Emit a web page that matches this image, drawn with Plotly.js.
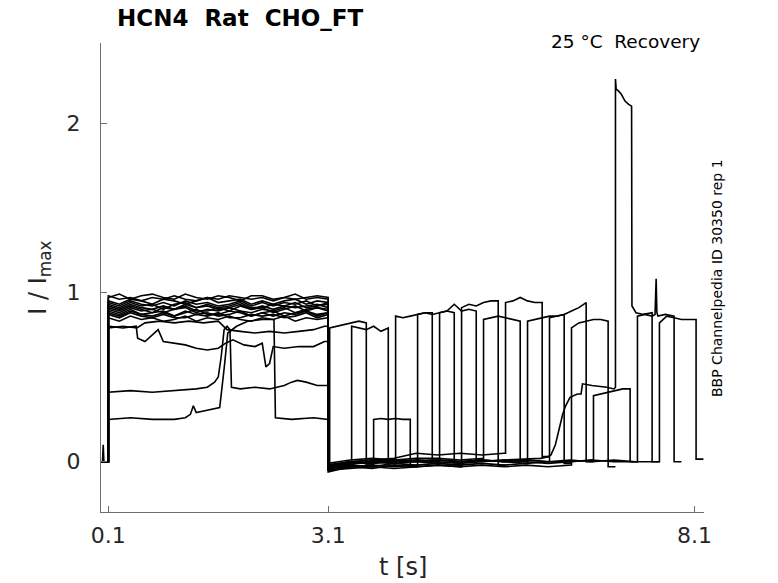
<!DOCTYPE html>
<html>
<head>
<meta charset="utf-8">
<script src="https://cdn.plot.ly/plotly-3.0.1.min.js"></script>
<style>html,body{margin:0;padding:0;background:#fff;}#chart{width:778px;height:583px;}</style>
</head>
<body>
<div id="chart"></div>
<script>
// ---------------- data ----------------
const xTickVals = [0.1, 3.1, 8.1];
const xTickText = ['0.1', '3.1', '8.1'];
const yTickVals = [0, 1, 2];
const yTickText = ['0', '1', '2'];

// holding segment before the first pulse
const preT = [0, 0.02, 0.03, 0.04, 0.1];
const preFlat = [0, 0, 0, 0, 0];
const preSpike = [0, 0, 0.1, 0, 0];

// first pulse (0.1 - 3.1 s), sampled on a common time grid for most sweeps
const p1Grid = [0.1,0.25,0.4,0.55,0.7,0.85,1.0,1.15,1.3,1.45,1.6,1.75,1.9,2.05,2.2,2.35,2.5,2.65,2.8,2.95,3.1];
const bandSweeps = [0,1,3,4,5,6,8,9,10,13,14,15];
const p1BandLevels = [
  [0.97,0.99,0.96,0.98,0.99,0.97,0.96,0.99,0.97,0.96,0.98,0.97,0.95,0.98,0.98,0.96,0.97,0.99,0.96,0.97,0.96],
  [0.95,0.93,0.96,0.95,0.93,0.96,0.95,0.93,0.95,0.97,0.94,0.95,0.96,0.93,0.95,0.93,0.95,0.96,0.93,0.95,0.94],
  [0.93,0.91,0.94,0.92,0.93,0.90,0.93,0.94,0.91,0.93,0.91,0.92,0.94,0.91,0.91,0.93,0.92,0.94,0.91,0.92,0.93],
  [0.91,0.89,0.92,0.90,0.88,0.91,0.90,0.92,0.89,0.89,0.91,0.89,0.92,0.90,0.91,0.88,0.90,0.92,0.89,0.91,0.90],
  [0.89,0.87,0.90,0.87,0.88,0.89,0.86,0.88,0.90,0.87,0.87,0.89,0.88,0.86,0.88,0.89,0.86,0.88,0.89,0.87,0.88],
  [0.98,0.96,0.97,0.95,0.97,0.96,0.98,0.96,0.95,0.97,0.96,0.98,0.97,0.96,0.97,0.95,0.97,0.96,0.97,0.98,0.97],
  [0.94,0.92,0.95,0.93,0.92,0.94,0.92,0.95,0.93,0.94,0.92,0.93,0.95,0.92,0.94,0.92,0.94,0.93,0.95,0.92,0.94],
  [0.87,0.85,0.88,0.86,0.85,0.87,0.85,0.85,0.87,0.86,0.88,0.85,0.85,0.87,0.86,0.87,0.85,0.86,0.88,0.85,0.87],
  [0.92,0.90,0.93,0.91,0.90,0.92,0.90,0.93,0.91,0.92,0.90,0.91,0.93,0.90,0.92,0.90,0.92,0.91,0.92,0.93,0.91],
  [0.85,0.83,0.86,0.84,0.85,0.83,0.84,0.86,0.83,0.85,0.84,0.86,0.84,0.83,0.85,0.84,0.86,0.83,0.85,0.84,0.85],
  [0.90,0.88,0.91,0.89,0.90,0.88,0.90,0.91,0.88,0.90,0.89,0.91,0.89,0.88,0.90,0.89,0.91,0.88,0.90,0.91,0.89],
  [0.88,0.86,0.89,0.87,0.86,0.88,0.86,0.89,0.87,0.88,0.86,0.87,0.89,0.86,0.88,0.86,0.88,0.87,0.89,0.86,0.88]
];
// first pulse of the irregular sweeps
const p1S3T = [0.1,0.4,0.7,1.0,1.15,1.22,1.26,1.3,1.4,1.5,1.62,1.68,1.73,1.85,2.0,2.2,2.36,2.38,2.6,2.9,3.1];
const p1S3Y = [0.25,0.26,0.25,0.25,0.26,0.28,0.33,0.29,0.30,0.31,0.32,0.55,0.76,0.80,0.83,0.84,0.84,0.26,0.25,0.26,0.25];
const p1S8T = [0.1,0.3,0.49,0.6,0.8,1.0,1.2,1.4,1.6,1.72,1.9,2.1,2.3,2.5,2.7,2.9,3.05,3.1];
const p1S8Y = [0.79,0.80,0.79,0.82,0.83,0.82,0.83,0.82,0.83,0.78,0.77,0.76,0.77,0.76,0.77,0.78,0.80,0.80];
const p1S12T = [0.1,0.3,0.48,0.5,0.6,0.7,0.78,0.85,1.0,1.15,1.3,1.45,1.6,1.7,1.8,1.95,2.1,2.2,2.25,2.3,2.35,2.5,2.7,2.9,3.05,3.1];
const p1S12Y = [0.80,0.79,0.80,0.73,0.71,0.75,0.78,0.71,0.70,0.69,0.67,0.66,0.67,0.70,0.72,0.69,0.68,0.70,0.56,0.58,0.68,0.67,0.68,0.68,0.71,0.71];
const p1S13T = [0.1,0.4,0.7,1.0,1.17,1.3,1.45,1.55,1.6,1.64,1.68,1.72,1.76,1.78,1.9,2.1,2.3,2.5,2.6,2.68,2.8,2.95,3.1];
const p1S13Y = [0.41,0.42,0.41,0.42,0.43,0.43,0.44,0.47,0.50,0.62,0.78,0.80,0.78,0.44,0.43,0.44,0.43,0.45,0.47,0.48,0.47,0.45,0.45];

// recovery interval baseline (3.1 s until the test pulse)
const baseGrid = [3.1,3.4,3.7,4.0,4.3,4.6,4.9,5.2,5.5,5.8,6.1,6.4,6.7,7.0,7.3,7.6];
const baseLevels = [
  [-0.05],
  [-0.04,-0.02],
  [-0.06,-0.03,-0.02],
  [-0.03,-0.01,0.0,-0.01],
  [-0.05,-0.03,-0.02,-0.03,-0.02],
  [-0.02,0.0,0.01,0.0,0.01,0.0],
  [-0.04,-0.03,-0.04,-0.02,-0.03,-0.02,-0.03],
  [-0.01,0.01,0.02,0.01,0.02,0.02,0.01,0.02],
  [-0.03,0.0,0.01,0.02,0.05,0.04,0.05,0.04,0.05],
  [-0.04,-0.02,-0.03,-0.01,-0.02,-0.01,-0.02,-0.01,-0.02,-0.01],
  [-0.02,0.0,-0.01,0.01,0.0,0.01,0.0,0.01,0.0,0.01,0.0],
  [-0.05,-0.04,-0.03,-0.04,-0.03,-0.02,-0.03,-0.02,-0.03,-0.02,-0.03,-0.02],
  [-0.03,-0.01,0.0,-0.01,0.0,0.01,0.0,0.01,0.0,0.01,0.0,0.0,0.01],
  null,
  [-0.02,0.0,-0.01,0.0,0.01,0.0,-0.01,0.0,0.01,0.0,-0.01,0.0,0.01,0.0,0.0],
  [-0.03,-0.01,0.0,0.01,0.0,-0.01,0.0,0.01,0.0,-0.01,0.0,0.01,0.0,0.01,0.0,0.0]
];
const baseS14T = [3.1,3.5,4.0,4.5,5.0,5.5,6.0,6.1,6.14,6.2,6.26,6.3,6.34,6.4,6.5,6.55,6.57,6.7,6.9,7.0,7.02];
const baseS14Y = [-0.04,-0.01,0.0,0.01,0.0,0.01,0.02,0.03,0.04,0.1,0.22,0.28,0.33,0.38,0.40,0.40,0.46,0.45,0.44,0.43,0.44];

// test pulses
const testStart = [3.12,3.42,3.72,4.02,4.32,4.62,4.92,5.22,5.52,5.82,6.12,6.42,6.72,7.02,7.32,7.62];
const testDuration = 0.5;
const tailDuration = 0.1;
const testRel = [0, 0.1, 0.2, 0.3, 0.4, 0.5];
const testLevels = [
  [0.79,0.80,0.81,0.82,0.83,0.82],
  [0.80,0.79,0.78,0.80,0.77,0.79],
  [0.25,0.255,0.25,0.255,0.25,0.25],
  [0.86,0.85,0.86,0.87,0.88,0.88],
  [0.87,0.88,0.87,0.88,0.89,0.88],
  [0.88,0.89,0.93,0.89,0.90,0.89],
  [0.91,0.93,0.92,0.94,0.95,0.95],
  [0.84,0.85,0.86,0.85,0.84,0.83],
  [0.94,0.95,0.97,0.95,0.94,0.94],
  [0.83,0.84,0.85,0.86,0.86,0.87],
  [0.85,0.86,0.87,0.89,0.91,0.94],
  [0.79,0.82,0.83,0.84,0.84,0.83],
  [0.39,0.40,0.41,0.42,0.43,0.43],
  null,
  null,
  [0.82,0.86,0.85,0.84,0.84,0.84]
];
const testS14T = [7.02,7.03,7.06,7.1,7.15,7.2,7.24,7.245,7.3,7.4,7.52];
const testS14Y = [2.26,2.2,2.19,2.17,2.13,2.11,2.1,0.92,0.88,0.87,0.88];
const testS15T = [7.32,7.42,7.52,7.56,7.575,7.585,7.6,7.7,7.82];
const testS15Y = [0.86,0.87,0.86,0.87,1.08,0.88,0.86,0.87,0.86];
const postLevels = [-0.02,-0.01,-0.03,0.0,-0.02,0.01,-0.02,0.01,0.03,-0.01,0.0,-0.03,0.0,0.0,0.0,0.015];

// ---------------- build the sweeps ----------------
const p1Special = {2: [p1S3T, p1S3Y], 7: [p1S8T, p1S8Y], 11: [p1S12T, p1S12Y], 12: [p1S13T, p1S13Y]};
const traces = [];
for (let k = 0; k < testStart.length; k++) {
  let x = [], y = [];
  x = x.concat(preT);
  y = y.concat(k === 0 ? preSpike : preFlat);
  if (p1Special[k]) {
    x = x.concat(p1Special[k][0]); y = y.concat(p1Special[k][1]);
  } else {
    const bi = bandSweeps.indexOf(k);
    x = x.concat(p1Grid); y = y.concat(p1BandLevels[bi]);
  }
  if (baseLevels[k]) {
    const bl = baseLevels[k];
    x = x.concat(baseGrid.slice(0, bl.length)); y = y.concat(bl);
    x.push(testStart[k]); y.push(bl[bl.length - 1]);
  } else {
    x = x.concat(baseS14T); y = y.concat(baseS14Y);
  }
  let tEnd;
  if (k === 13) {
    x = x.concat(testS14T); y = y.concat(testS14Y); tEnd = testS14T[testS14T.length - 1];
  } else if (k === 14) {
    x = x.concat(testS15T); y = y.concat(testS15Y); tEnd = testS15T[testS15T.length - 1];
  } else {
    testRel.forEach((r, j) => { x.push(testStart[k] + r); y.push(testLevels[k][j]); });
    tEnd = testStart[k] + testDuration;
  }
  x.push(tEnd, tEnd + tailDuration); y.push(postLevels[k], postLevels[k]);
  traces.push({x: x, y: y, type: 'scatter', mode: 'lines',
    line: {color: '#000000', width: 1.6}, hoverinfo: 'skip', showlegend: false});
}

const F = 'DejaVu Sans, Liberation Sans, sans-serif';
const axisCommon = {
  showline: true, linecolor: '#6e6e6e', linewidth: 1, mirror: false,
  ticks: 'inside', ticklen: 6, tickcolor: '#6e6e6e', tickwidth: 1,
  showgrid: false, zeroline: false, tickmode: 'array',
  tickfont: {family: F, size: 22, color: '#262626'}
};
const layout = {
  width: 778, height: 583,
  margin: {l: 101, r: 73.5, t: 43, b: 71, pad: 0},
  paper_bgcolor: '#ffffff', plot_bgcolor: '#ffffff',
  showlegend: false,
  xaxis: Object.assign({}, axisCommon, {range: [0, 8.228], tickvals: xTickVals, ticktext: xTickText, ticklabelstandoff: 4}),
  yaxis: Object.assign({}, axisCommon, {range: [-0.297, 2.473], tickvals: yTickVals, ticktext: yTickText, ticklabelposition: 'outside', ticklabelstandoff: 15}),
  annotations: [
    {text: '<b>HCN4\u00a0\u00a0Rat\u00a0\u00a0CHO_FT</b>', xref: 'paper', yref: 'paper', x: 0.0232, y: 1.0533,
     xanchor: 'left', yanchor: 'middle', showarrow: false, font: {family: F, size: 23, color: '#000000'}},
    {text: '25 °C\u00a0\u00a0Recovery', xref: 'paper', yref: 'paper', x: 0.9975, y: 1.004,
     xanchor: 'right', yanchor: 'middle', showarrow: false, font: {family: F, size: 18.5, color: '#000000'}},
    {text: 'BBP Channelpedia ID 30350 rep 1', xref: 'paper', yref: 'paper', x: 1.0207, y: 0.5,
     xanchor: 'center', yanchor: 'middle', textangle: -90, showarrow: false, font: {family: F, size: 14, color: '#000000'}},
    {text: 'I / I<sub>max</sub>', xref: 'paper', yref: 'paper', x: -0.1026, y: 0.5,
     xanchor: 'center', yanchor: 'middle', textangle: -90, showarrow: false, font: {family: F, size: 24, color: '#262626'}},
    {text: 't [s]', xref: 'paper', yref: 'paper', x: 0.5004, y: -0.117,
     xanchor: 'center', yanchor: 'middle', showarrow: false, font: {family: F, size: 24, color: '#262626'}}
  ]
};
Plotly.newPlot('chart', traces, layout, {staticPlot: true, displayModeBar: false});
</script>
</body>
</html>
